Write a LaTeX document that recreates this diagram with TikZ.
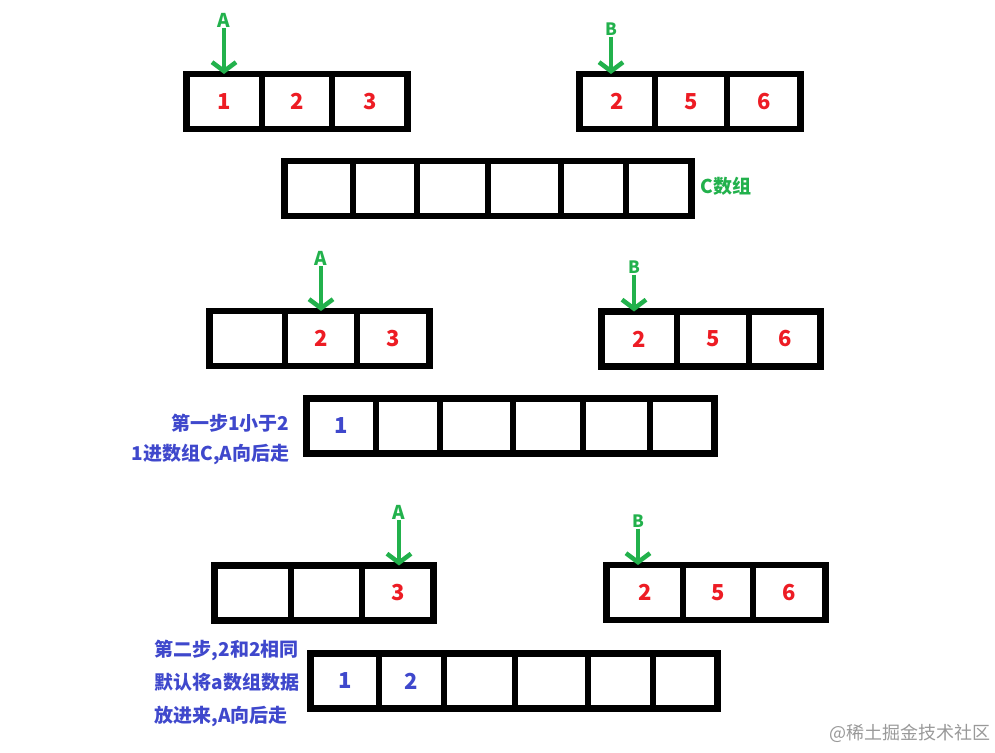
\documentclass[tikz,border=0pt]{standalone}
\usepackage{fontspec}
\newfontfamily\cjk{Noto Sans CJK SC}
\usetikzlibrary{arrows.meta,positioning}
\definecolor{paintred}{HTML}{ED1C24}
\definecolor{paintgreen}{HTML}{22B14C}
\definecolor{paintblue}{HTML}{3F48CC}

\begin{document}
\begin{tikzpicture}[x=1pt, y=-1pt, node distance=0pt,
		every node/.style={font=\cjk\bfseries},
		cell/.style={draw, line width=6.5pt, minimum height=55pt, inner sep=0pt, outer sep=0pt, font=\cjk\bfseries\fontsize{22}{22}\selectfont},
		num/.style={text=paintred},
		got/.style={text=paintblue},
		ptr/.style={paintgreen, line width=4.5pt, -{Straight Barb[length=9pt, width=24pt]}},
		ptrlabel/.style={text=paintgreen, inner sep=1pt, font=\cjk\bfseries\fontsize{19}{19}\selectfont},
		note/.style={text=paintblue, inner sep=0pt, font=\cjk\bfseries\fontsize{19}{30}\selectfont}]
			\useasboundingbox (0,0) rectangle (995,752);
			
			% step 0
			\node[cell, num, minimum width=75.5pt, anchor=west] (a11) at (186.5,101.5) {1};
			\node[cell, num, minimum width=70pt, right=of a11] (a12) {2};
			\node[cell, num, minimum width=75.5pt, right=of a12] (a13) {3};
			\node[ptrlabel] (pa1) at (224,20) {A};
			\draw[ptr] (pa1) -- (pa1 |- a11.north);
			
			\node[cell, num, minimum width=75.5pt, anchor=west] (b11) at (579.5,101.5) {2};
			\node[cell, num, minimum width=72pt, right=of b11] (b12) {5};
			\node[cell, num, minimum width=73.5pt, right=of b12] (b13) {6};
			\node[ptrlabel, font=\cjk\bfseries\fontsize{17}{17}\selectfont] (pb1) at (611,29) {B};
			\draw[ptr] (pb1) -- (pb1 |- b11.north);
			
			\node[cell, minimum width=68.5pt, anchor=west] (c11) at (284.5,188.5) {};
			\node[cell, minimum width=64pt, right=of c11] (c12) {};
			\node[cell, minimum width=71pt, right=of c12] (c13) {};
			\node[cell, minimum width=73pt, right=of c13] (c14) {};
			\node[cell, minimum width=65pt, right=of c14] (c15) {};
			\node[cell, minimum width=65.5pt, right=of c15] (c16) {};
			\node[right=9pt of c16, inner sep=0pt, text=paintgreen, font=\cjk\bfseries\fontsize{19}{19}\selectfont, yshift=2pt] (cname) {C数组};
			
			% step 1
			\node[cell, minimum width=75.5pt, anchor=west] (a21) at (209.5,338.5) {};
			\node[cell, num, minimum width=72pt, right=of a21] (a22) {2};
			\node[cell, num, minimum width=72.5pt, right=of a22] (a23) {3};
			\node[ptrlabel] (pa2) at (321,258) {A};
			\draw[ptr] (pa2) -- (pa2 |- a22.north);
			
			\node[cell, num, minimum width=75.5pt, anchor=west] (b21) at (601.5,339) {2};
			\node[cell, num, minimum width=72pt, right=of b21] (b22) {5};
			\node[cell, num, minimum width=71.5pt, right=of b22] (b23) {6};
			\node[ptrlabel, font=\cjk\bfseries\fontsize{17}{17}\selectfont] (pb2) at (634,267) {B};
			\draw[ptr] (pb2) -- (pb2 |- b21.north);
			
			\node[cell, got, minimum width=69.5pt, anchor=west] (c21) at (306.5,426) {1};
			\node[cell, minimum width=64pt, right=of c21] (c22) {};
			\node[cell, minimum width=73pt, right=of c22] (c23) {};
			\node[cell, minimum width=70pt, right=of c23] (c24) {};
			\node[cell, minimum width=67pt, right=of c24] (c25) {};
			\node[cell, minimum width=64.5pt, right=of c25] (c26) {};
			\node[note, align=right, left=17pt of c21, yshift=-13pt] (step1) {第一步1小于2\\1进数组C,A向后走};
			
			% step 2
			\node[cell, minimum width=76.5pt, anchor=west] (a31) at (214.5,593) {};
			\node[cell, minimum width=71pt, right=of a31] (a32) {};
			\node[cell, num, minimum width=71.5pt, right=of a32] (a33) {3};
			\node[ptrlabel] (pa3) at (399,512) {A};
			\draw[ptr] (pa3) -- (pa3 |- a33.north);
			
			\node[cell, num, minimum width=76.5pt, anchor=west] (b31) at (606.5,592.5) {2};
			\node[cell, num, minimum width=70pt, right=of b31] (b32) {5};
			\node[cell, num, minimum width=72.5pt, right=of b32] (b33) {6};
			\node[ptrlabel, font=\cjk\bfseries\fontsize{17}{17}\selectfont] (pb3) at (638,521) {B};
			\draw[ptr] (pb3) -- (pb3 |- b31.north);
			
			\node[cell, got, minimum width=68.5pt, anchor=west] (c31) at (310.5,681) {1};
			\node[cell, got, minimum width=65pt, right=of c31] (c32) {2};
			\node[cell, minimum width=71pt, right=of c32] (c33) {};
			\node[cell, minimum width=73pt, right=of c33] (c34) {};
			\node[cell, minimum width=65pt, right=of c34] (c35) {};
			\node[cell, minimum width=64.5pt, right=of c35] (c36) {};
			\node[note, align=left, left=11pt of c31, yshift=-2pt, font=\cjk\bfseries\fontsize{19}{33}\selectfont] (step2) {第二步,2和2相同\\默认将a数组数据\\放进来,A向后走};
			
			\node[text=black!40, font=\cjk\fontsize{18}{18}\selectfont] (mark) at (910,733) {@稀土掘金技术社区};
		\end{tikzpicture}
\end{document}
